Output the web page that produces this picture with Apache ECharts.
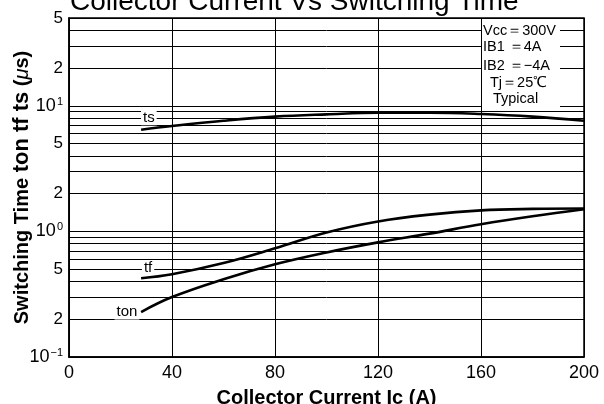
<!DOCTYPE html>
<html>
<head>
<meta charset="utf-8">
<script src="https://cdn.jsdelivr.net/npm/echarts@6/dist/echarts.min.js"></script>
<style>
  html, body { margin: 0; padding: 0; background: #fff; }
  #chart { width: 604px; height: 404px; }
</style>
</head>
<body>
<div id="chart"></div>
<script>
  // collector current Ic (A)
  var current = [28, 40, 60, 80, 100, 120, 140, 160, 180, 200];
  // switching times (us)
  var ts = [6.45, 6.9, 7.6, 8.2, 8.55, 8.8, 8.8, 8.6, 8.2, 7.6];
  var tf = [0.424, 0.456, 0.56, 0.733, 0.98, 1.2, 1.36, 1.47, 1.51, 1.52];
  var ton = [0.228, 0.30, 0.416, 0.547, 0.68, 0.818, 0.96, 1.14, 1.32, 1.50];

  // minor log grid lines and the ones that carry a 2 / 5 label
  var minorLines = [0.2, 0.3, 0.4, 0.5, 0.6, 0.7, 0.8, 0.9,
    2, 3, 4, 5, 6, 7, 8, 9, 20, 30, 40, 50];
  var minorLabels = [0.2, 0.5, 2, 5, 20, 50];

  var conditions = ['Vcc＝300V', 'IB1 ＝4A', 'IB2 ＝−4A', 'Tj＝25℃', 'Typical'];

  var FONT = '"Liberation Sans", Arial, sans-serif';

  function pairs(ys) {
    var out = [];
    for (var i = 0; i < current.length; i++) {
      out.push([current[i], ys[i]]);
    }
    return out;
  }

  function leadDigit(v) {
    var p = Math.pow(10, Math.floor(Math.log10(v) + 1e-9));
    return String(Math.round(v / p));
  }

  function curve(name, data, lbl) {
    return {
      name: name,
      type: 'line',
      data: pairs(data),
      smooth: 0.4,
      symbol: 'none',
      lineStyle: { color: '#000', width: 2.6 },
      z: 5,
      markPoint: {
        silent: true,
        symbol: 'rect',
        symbolSize: 1,
        itemStyle: { color: 'rgba(0,0,0,0)' },
        label: {
          show: true,
          position: 'inside',
          formatter: name,
          color: '#000',
          fontSize: 15,
          fontFamily: FONT,
          backgroundColor: '#fff',
          padding: [0, 2]
        },
        data: [{ coord: lbl }]
      }
    };
  }

  var gridLines = {
    name: 'grid',
    type: 'line',
    data: [],
    markLine: {
      silent: true,
      symbol: 'none',
      animation: false,
      lineStyle: { color: '#000', width: 1, type: 'solid' },
      label: {
        position: 'start',
        distance: 6,
        color: '#000',
        fontSize: 17,
        fontFamily: FONT
      },
      data: minorLines.map(function (v) {
        return {
          yAxis: v,
          label: {
            show: minorLabels.indexOf(v) >= 0,
            formatter: leadDigit(v)
          }
        };
      })
    }
  };

  var graphics = [{
    type: 'rect',
    z: 50,
    silent: true,
    shape: { x: 482, y: 19, width: 78, height: 88 },
    style: { fill: '#fff' }
  }];
  var rows = [[483, 31], [483, 47], [483, 66], [490, 83], [493, 99]];
  conditions.forEach(function (t, i) {
    graphics.push({
      type: 'text',
      z: 51,
      silent: true,
      x: rows[i][0],
      y: rows[i][1],
      style: {
        text: t,
        fill: '#000',
        font: '14.5px ' + FONT,
        verticalAlign: 'middle',
        align: 'left'
      }
    });
  });

  var option = {
    animation: false,
    backgroundColor: '#fff',
    title: {
      text: 'Collector Current Vs Switching Time',
      left: 70,
      top: -12,
      padding: 0,
      textStyle: { fontSize: 28, fontWeight: 'normal', color: '#000', fontFamily: FONT }
    },
    grid: {
      left: 69, right: 20, top: 18, bottom: 47,
      containLabel: false,
      outerBoundsMode: 'none',
      show: true,
      borderColor: '#000',
      borderWidth: 1.5,
      backgroundColor: 'transparent'
    },
    xAxis: {
      type: 'value',
      min: 0,
      max: 200,
      interval: 40,
      name: 'Collector Current Ic (A)',
      nameLocation: 'middle',
      nameGap: 31,
      nameMoveOverlap: false,
      nameTextStyle: { fontSize: 20, fontWeight: 'bold', color: '#000', fontFamily: FONT },
      axisLine: { lineStyle: { color: '#000', width: 1.5 } },
      axisTick: { show: false },
      axisLabel: { color: '#000', fontSize: 18, margin: 7, fontFamily: FONT },
      splitLine: { show: true, lineStyle: { color: '#000', width: 1 } }
    },
    yAxis: {
      type: 'log',
      logBase: 10,
      min: 0.1,
      max: 50,
      name: '{a|Switching Time }{b|ton tf ts}{a| (}{m|μ}{a|s)}',
      nameLocation: 'middle',
      nameRotate: 90,
      nameGap: 36,
      nameMoveOverlap: false,
      nameTextStyle: {
        color: '#000',
        rich: {
          a: { fontSize: 20, fontWeight: 'bold', fontFamily: FONT, color: '#000' },
          b: { fontSize: 22, fontWeight: 'bold', fontFamily: FONT, color: '#000' },
          m: { fontSize: 20, fontStyle: 'italic', fontFamily: FONT, color: '#000' }
        }
      },
      axisLine: { lineStyle: { color: '#000', width: 1.5 } },
      axisTick: { show: false },
      axisLabel: {
        margin: 6,
        formatter: function (v) {
          var e = Math.log10(v);
          if (Math.abs(e - Math.round(e)) > 1e-6) {
            return '';
          }
          var n = Math.round(e);
          return '{b|10}{s|' + (n < 0 ? '−' + (-n) : n) + '}';
        },
        rich: {
          b: { fontSize: 18, color: '#000', fontFamily: FONT },
          s: { fontSize: 11, color: '#000', fontFamily: FONT, verticalAlign: 'top', padding: [0, 0, 8, 1] }
        }
      },
      splitLine: { show: true, lineStyle: { color: '#000', width: 1 } }
    },
    graphic: graphics,
    series: [
      gridLines,
      curve('ts', ts, [31, 8.03]),
      curve('tf', tf, [30.7, 0.508]),
      curve('ton', ton, [22.5, 0.228])
    ]
  };

  var myChart = echarts.init(document.getElementById('chart'));
  myChart.setOption(option);
</script>
</body>
</html>
